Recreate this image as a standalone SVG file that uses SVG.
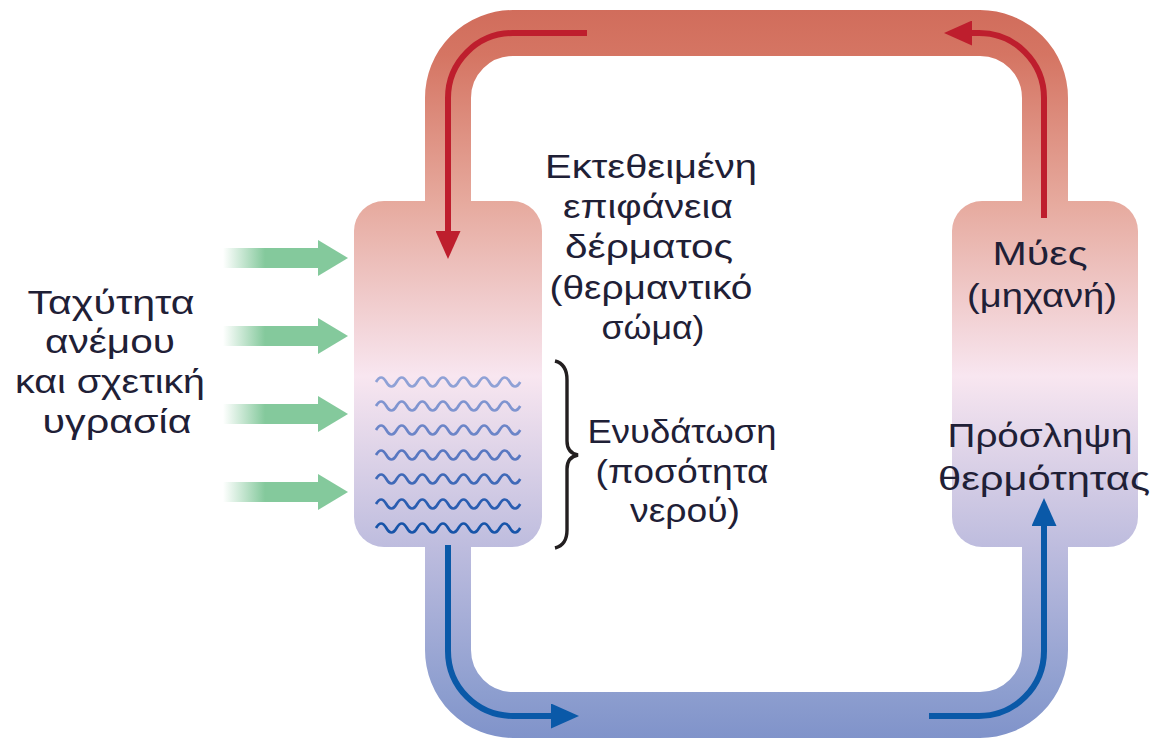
<svg xmlns="http://www.w3.org/2000/svg" xmlns:xlink="http://www.w3.org/1999/xlink" width="1151" height="738" viewBox="0 0 1151 738">
<style>
.t{font-family:"Liberation Sans",Arial,"DejaVu Sans",sans-serif;font-size:33px;fill:#1f2036;text-anchor:middle}
.red{fill:none;stroke:#BE1E2D;stroke-width:6}
.blue{fill:none;stroke:#0A59A8;stroke-width:6}
.wv{fill:none;stroke-width:2.7;stroke-linejoin:round}
</style>
<defs>
<linearGradient id="g" gradientUnits="userSpaceOnUse" x1="0" y1="0" x2="0" y2="738">
<stop offset="0" stop-color="#D06B5A"/>
<stop offset="0.075" stop-color="#D57563"/>
<stop offset="0.272" stop-color="#E6A99D"/>
<stop offset="0.51" stop-color="#F8E6F0"/>
<stop offset="0.743" stop-color="#BDBCDE"/>
<stop offset="0.938" stop-color="#8D9ECF"/>
<stop offset="1" stop-color="#8093CA"/>
</linearGradient>
<linearGradient id="gg" gradientUnits="userSpaceOnUse" x1="223" y1="0" x2="265" y2="0">
<stop offset="0" stop-color="#84C99C" stop-opacity="0"/>
<stop offset="1" stop-color="#84C99C" stop-opacity="1"/>
</linearGradient>
<marker id="ahr" markerUnits="userSpaceOnUse" viewBox="0 0 28 25" markerWidth="28" markerHeight="25" refX="0" refY="12.5" orient="auto">
<path d="M0,0 L28,12.5 L0,25 z" fill="#BE1E2D"/>
</marker>
<marker id="ahb" markerUnits="userSpaceOnUse" viewBox="0 0 28 25" markerWidth="28" markerHeight="25" refX="0" refY="12.5" orient="auto">
<path d="M0,0 L28,12.5 L0,25 z" fill="#0A59A8"/>
</marker>
<path id="wave" d="M0,0 q5.15,-9 10.3,0 t10.3,0 t10.3,0 t10.3,0 t10.3,0 t10.3,0 t10.3,0 t10.3,0 t10.3,0 t10.3,0 t10.3,0 t10.3,0 t10.3,0 t10.3,0"/>
<g id="garrow">
<rect x="223" y="-10" width="97" height="20" fill="url(#gg)"/>
<path d="M318,-18 L348,0 L318,18 z" fill="#84C99C"/>
</g>
</defs>

<g id="loop">
<rect x="448" y="33" width="597" height="682" rx="65" ry="65" fill="none" stroke="url(#g)" stroke-width="46"/>
</g>

<g id="skin">
<rect x="354" y="201" width="188" height="346" rx="30" ry="30" fill="url(#g)"/>
<g class="wv">
<use xlink:href="#wave" x="376" y="382" stroke="#8FA1D6"/>
<use xlink:href="#wave" x="376" y="406" stroke="#7F94D0"/>
<use xlink:href="#wave" x="376" y="430" stroke="#6C85C8"/>
<use xlink:href="#wave" x="376" y="455" stroke="#5877C1"/>
<use xlink:href="#wave" x="376" y="479" stroke="#3F69B8"/>
<use xlink:href="#wave" x="376" y="504" stroke="#2A5DB1"/>
<use xlink:href="#wave" x="376" y="528" stroke="#1754A9"/>
</g>
</g>

<g id="muscles">
<rect x="952" y="201" width="186" height="346" rx="30" ry="30" fill="url(#g)"/>
</g>

<g id="wind">
<use xlink:href="#garrow" y="258"/>
<use xlink:href="#garrow" y="336"/>
<use xlink:href="#garrow" y="414"/>
<use xlink:href="#garrow" y="492"/>
</g>

<g id="brace">
<path d="M555,361 Q567,364 567,380 V441 Q567,453 578,455 Q567,457 567,469 V530 Q567,545 555,548" fill="none" stroke="#231F20" stroke-width="3.4"/>
</g>

<g id="connectors">
<path class="red" d="M587,33 H513 A65,65 0 0 0 448,98 V231" marker-end="url(#ahr)"/>
<path class="red" d="M1044,218 V98 A65,65 0 0 0 979,33 H972" marker-end="url(#ahr)"/>
<path class="blue" d="M448,545 V651 A65,65 0 0 0 513,716 H551" marker-end="url(#ahb)"/>
<path class="blue" d="M929,716 H979 A65,65 0 0 0 1044,651 V526" marker-end="url(#ahb)"/>
</g>

<g id="labels">
<text class="t" x="651" y="178" textLength="212" lengthAdjust="spacingAndGlyphs">Εκτεθειμένη</text>
<text class="t" x="648" y="218" textLength="170" lengthAdjust="spacingAndGlyphs">επιφάνεια</text>
<text class="t" x="649" y="258" textLength="168" lengthAdjust="spacingAndGlyphs">δέρματος</text>
<text class="t" x="651" y="299" textLength="203" lengthAdjust="spacingAndGlyphs">(θερμαντικό</text>
<text class="t" x="653" y="339" textLength="103" lengthAdjust="spacingAndGlyphs">σώμα)</text>

<text class="t" x="111" y="314" textLength="167" lengthAdjust="spacingAndGlyphs">Ταχύτητα</text>
<text class="t" x="110" y="353" textLength="130" lengthAdjust="spacingAndGlyphs">ανέμου</text>
<text class="t" x="110" y="393" textLength="190" lengthAdjust="spacingAndGlyphs">και σχετική</text>
<text class="t" x="117" y="433" textLength="149" lengthAdjust="spacingAndGlyphs">υγρασία</text>

<text class="t" x="682" y="443" textLength="189" lengthAdjust="spacingAndGlyphs">Ενυδάτωση</text>
<text class="t" x="682" y="483" textLength="173" lengthAdjust="spacingAndGlyphs">(ποσότητα</text>
<text class="t" x="685" y="522" textLength="110" lengthAdjust="spacingAndGlyphs">νερού)</text>

<text class="t" x="1040" y="265" textLength="95" lengthAdjust="spacingAndGlyphs">Μύες</text>
<text class="t" x="1042" y="307" textLength="150" lengthAdjust="spacingAndGlyphs">(μηχανή)</text>
<text class="t" x="1040" y="447" textLength="185" lengthAdjust="spacingAndGlyphs">Πρόσληψη</text>
<text class="t" x="1044" y="490" textLength="212" lengthAdjust="spacingAndGlyphs">θερμότητας</text>
</g>
</svg>
